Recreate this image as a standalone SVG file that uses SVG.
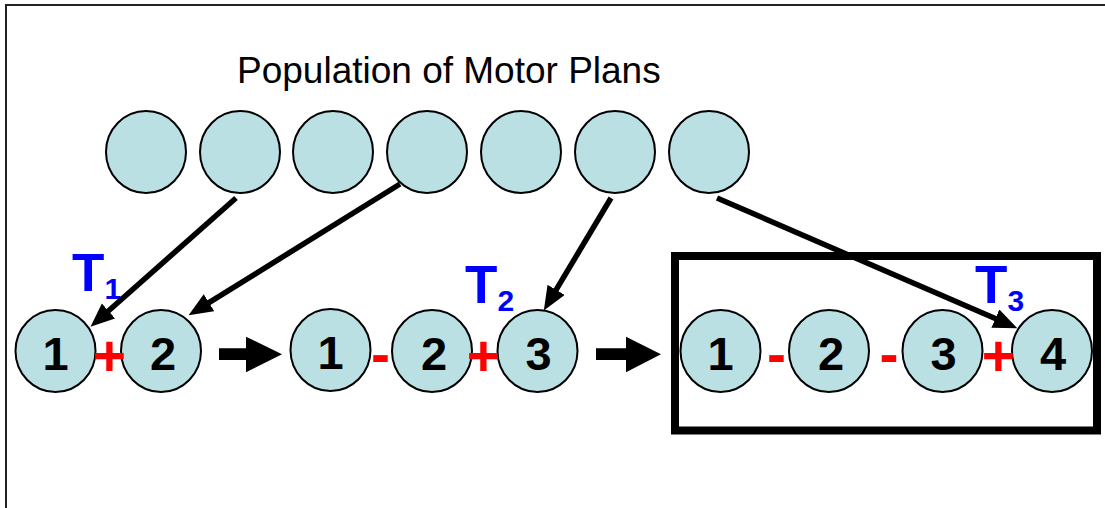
<svg xmlns="http://www.w3.org/2000/svg" width="1105" height="508" viewBox="0 0 1105 508">
<style>
.c{fill:#BBE0E3;stroke:#000;stroke-width:2}
.d{font-family:"Liberation Sans",Arial,sans-serif;font-weight:bold;font-size:47px;fill:#000;text-anchor:middle}
.s{font-family:"Liberation Sans",Arial,sans-serif;font-weight:bold;font-size:57px;fill:#FF0000;text-anchor:middle}
.t{font-family:"Liberation Sans",Arial,sans-serif;font-weight:bold;font-size:53px;fill:#0000FF}
.ln{stroke:#000;stroke-width:5.5;fill:none;marker-end:url(#ah)}
</style>
<defs>
<marker id="ah" markerUnits="userSpaceOnUse" markerWidth="26" markerHeight="22" refX="10" refY="10" orient="auto" viewBox="0 0 26 22">
<path d="M0,0 L24,10 L0,20 z" fill="#000"/>
</marker>
</defs>
<rect width="1105" height="508" fill="#fff"/>
<path d="M6,508 V5 H1105" fill="none" stroke="#222" stroke-width="2"/>
<text x="237" y="83" font-family="'Liberation Sans',Arial,sans-serif" font-size="37" fill="#000">Population of Motor Plans</text>

<g id="population">
<ellipse class="c" cx="146" cy="152" rx="40" ry="41"/>
<ellipse class="c" cx="240" cy="152" rx="40" ry="41"/>
<ellipse class="c" cx="333" cy="152" rx="40" ry="41"/>
<ellipse class="c" cx="427" cy="152" rx="40" ry="41"/>
<ellipse class="c" cx="521" cy="152" rx="40" ry="41"/>
<ellipse class="c" cx="615" cy="152" rx="40" ry="41"/>
<ellipse class="c" cx="709" cy="152" rx="40" ry="41"/>
</g>

<g id="box">
<rect x="675" y="256" width="422" height="174.5" fill="none" stroke="#000" stroke-width="8"/>
</g>

<g id="seq1">
<ellipse class="c" cx="55.5" cy="351" rx="40" ry="41"/>
<text class="d" x="55.5" y="370">1</text>
<ellipse class="c" cx="161" cy="351" rx="40" ry="41"/>
<text class="d" x="163" y="370">2</text>
<text class="s" x="109.5" y="376">+</text>
</g>

<g id="seq2">
<ellipse class="c" cx="330.5" cy="350" rx="40" ry="41"/>
<text class="d" x="330.5" y="369">1</text>
<ellipse class="c" cx="432" cy="351" rx="40" ry="41"/>
<text class="d" x="434" y="370">2</text>
<ellipse class="c" cx="537.5" cy="351" rx="40" ry="41"/>
<text class="d" x="538.5" y="370">3</text>
<text class="s" x="380.5" y="374">-</text>
<text class="s" x="483.5" y="376">+</text>
</g>

<g id="seq3">
<ellipse class="c" cx="720.5" cy="351" rx="40" ry="41"/>
<text class="d" x="720.5" y="370">1</text>
<ellipse class="c" cx="829" cy="351" rx="40" ry="41"/>
<text class="d" x="831" y="370">2</text>
<ellipse class="c" cx="942.5" cy="351" rx="40" ry="41"/>
<text class="d" x="943.5" y="370">3</text>
<ellipse class="c" cx="1052" cy="351" rx="40" ry="41"/>
<text class="d" x="1053" y="370">4</text>
<text class="s" x="776.5" y="374">-</text>
<text class="s" x="889" y="374">-</text>
<text class="s" x="998.5" y="376">+</text>
</g>

<g id="labels">
<text class="t" x="72" y="291">T<tspan font-size="30" dy="8">1</tspan></text>
<text class="t" x="465" y="303">T<tspan font-size="30" dy="8">2</tspan></text>
<text class="t" x="975" y="303">T<tspan font-size="30" dy="8">3</tspan></text>
</g>

<g id="connectors">
<line class="ln" x1="236" y1="198" x2="101" y2="317.5"/>
<line class="ln" x1="400" y1="184" x2="200.5" y2="307.9"/>
<line class="ln" x1="611" y1="198" x2="551" y2="298.4"/>
<line class="ln" x1="717" y1="198" x2="1004.5" y2="322.6"/>
<polygon points="219,348.3 246,348.3 246,336.7 282,354.3 246,372.3 246,360 219,360" fill="#000"/>
<polygon points="596,348.3 626,348.3 626,336.7 661,354.3 626,372.3 626,360 596,360" fill="#000"/>
</g>
</svg>
